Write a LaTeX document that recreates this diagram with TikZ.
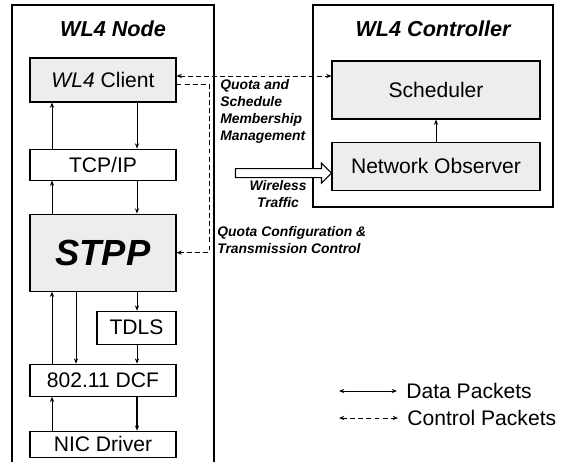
\documentclass[tikz,border=0pt]{standalone}
\usepackage{fontspec}
\setmainfont{Liberation Sans}
\usetikzlibrary{arrows.meta, positioning, calc}
\definecolor{boxfill}{RGB}{237,237,237}
\tikzset{
    box/.style={
        rectangle,
        draw=black,
        line width=0.6pt,
        fill=boxfill,
        text centered,
        inner sep=1pt,
        font=\fontsize{12}{14}\selectfont
    },
    plainbox/.style={
        box,
        fill=white
    },
    group/.style={
        draw=black,
        line width=1.3pt
    },
    grouptitle/.style={
        font=\fontsize{12.3}{14}\selectfont\bfseries\itshape
    },
    note/.style={
        inner sep=0pt,
        font=\fontsize{7.9}{9.6}\selectfont\bfseries\itshape
    },
    legend/.style={
        inner sep=0.18cm,
        font=\fontsize{12}{14}\selectfont
    },
    data/.style={
        draw=black,
        line width=0.5pt,
        -{Stealth[length=3pt,width=2.4pt]}
    },
    control/.style={
        data,
        dash pattern=on 2.8pt off 1.8pt
    },
    wireless/.style={
        draw=black,
        line width=0.6pt,
        fill=white
    }
}

\begin{document}
\begin{tikzpicture}
\useasboundingbox (0,0) rectangle (11.26,-9.24);
% lanes for the vertical arrows
\coordinate (uplane) at (1.04,0);
\coordinate (midlane) at (1.52,0);
\coordinate (dnlane) at (2.74,0);
\coordinate (ctrllane) at (4.18,0);

% WL4 node
\draw[group] (0.24,-9.6) -- (0.24,-0.1) -- (4.28,-0.1) -- (4.28,-9.6);
\node[grouptitle, anchor=base] (nodetitle) at (2.26,-0.74) {WL4 Node};
\node[box, minimum width=2.92cm, minimum height=0.88cm] (client) at (2.06,-1.6) {\textit{WL4} Client};
\node[plainbox, below=0.92cm of client, minimum width=2.92cm, minimum height=0.62cm] (tcp) {TCP/IP};
\node[box, below=0.66cm of tcp, minimum width=2.92cm, minimum height=1.54cm, font=\fontsize{20.7}{24}\selectfont\bfseries\itshape] (stpp) {STPP};
\node[plainbox, anchor=north east, minimum width=1.58cm, minimum height=0.66cm] (tdls) at ([yshift=-0.38cm]stpp.south east) {TDLS};
\node[plainbox, below=1.44cm of stpp, minimum width=2.92cm, minimum height=0.64cm] (dcf) {802.11 DCF};
\node[plainbox, below=0.68cm of dcf, minimum width=2.92cm, minimum height=0.52cm] (nic) {NIC Driver};

% WL4 controller
\draw[group] (6.26,-0.1) rectangle (11.06,-4.14);
\node[grouptitle, anchor=base] (ctrltitle) at (8.66,-0.74) {WL4 Controller};
\node[box, minimum width=4.16cm, minimum height=1.16cm] (sched) at (8.72,-1.8) {Scheduler};
\node[box, below=0.44cm of sched, minimum width=4.16cm, minimum height=0.96cm] (obs) {Network Observer};

% data packets
\draw[data] (tcp.north -| uplane) -- (client.south -| uplane);
\draw[data] (client.south -| dnlane) -- (tcp.north -| dnlane);
\draw[data] (stpp.north -| uplane) -- (tcp.south -| uplane);
\draw[data] (tcp.south -| dnlane) -- (stpp.north -| dnlane);
\draw[data] (dcf.north -| uplane) -- (stpp.south -| uplane);
\draw[data] (stpp.south -| midlane) -- (dcf.north -| midlane);
\draw[data] (stpp.south -| dnlane) -- (tdls.north -| dnlane);
\draw[data] (tdls.south -| dnlane) -- (dcf.north -| dnlane);
\draw[data] (nic.north -| uplane) -- (dcf.south -| uplane);
\draw[data, line width=1pt] (dcf.south -| dnlane) -- (nic.north -| dnlane);
\draw[data] (obs) -- (sched);

% control packets
\draw[control, {Stealth[length=3pt,width=2.4pt]}-{Stealth[length=3pt,width=2.4pt]}] ([yshift=0.08cm]client.east) -- ([yshift=0.08cm]client.east -| sched.west);
\draw[control] ([yshift=-0.08cm]client.east) -| (stpp.east -| ctrllane) -- (stpp.east);

% wireless traffic
\coordinate (wtip) at ([yshift=-0.14cm]obs.west);
\draw[wireless] (wtip) -- ++(-0.2,0.2) -- ++(0,-0.11) -- ++(-1.72,0) -- ++(0,-0.18) -- ++(1.72,0) -- ++(0,-0.11) -- cycle;

\node[note, anchor=north west, align=left] (quotalbl) at (4.40,-1.58) {Quota and\\Schedule\\Membership\\Management};
\node[note, anchor=north, align=center] (wlbl) at (5.56,-3.6) {Wireless\\Traffic};
\node[note, anchor=north west, align=left] (conflbl) at (4.34,-4.52) {Quota Configuration \&\\Transmission Control};

% legend
\coordinate (dataleg) at (6.78,-7.82);
\coordinate (ctrlleg) at (6.78,-8.36);
\node[legend, anchor=west] (datalbl) at (7.94,-7.82) {Data Packets};
\node[legend, anchor=west] (ctrllbl) at (7.96,-8.36) {Control Packets};
\draw[data, {Stealth[length=3pt,width=2.4pt]}-{Stealth[length=3pt,width=2.4pt]}] (dataleg) -- (datalbl.west);
\draw[control, {Stealth[length=3pt,width=2.4pt]}-{Stealth[length=3pt,width=2.4pt]}] (ctrlleg) -- (ctrllbl.west);
\end{tikzpicture}
\end{document}
